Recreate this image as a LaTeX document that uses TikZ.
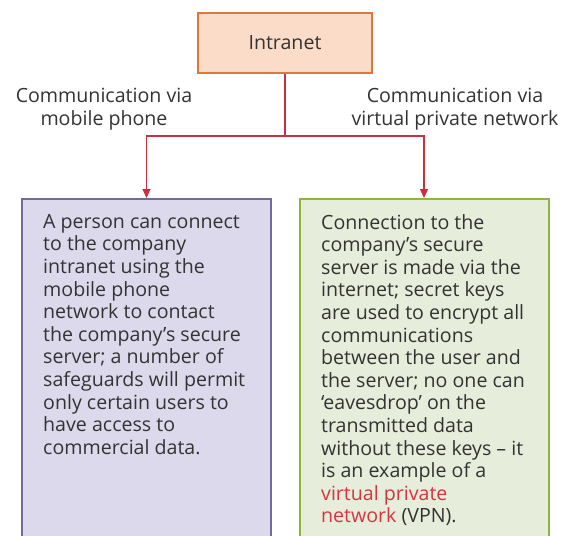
\documentclass[tikz,border=0pt]{standalone}
\usepackage{fontspec}
\setmainfont{Open Sans}
\usetikzlibrary{arrows.meta}
\definecolor{txt}{HTML}{333333}
\definecolor{peach}{HTML}{FADCC8}
\definecolor{orangeb}{HTML}{E0773A}
\definecolor{lav}{HTML}{DDD9EC}
\definecolor{lavb}{HTML}{6F6C9A}
\definecolor{grn}{HTML}{E7EDDB}
\definecolor{grnb}{HTML}{8FB540}
\definecolor{conn}{HTML}{C9303F}
\definecolor{vpn}{HTML}{D8343F}
\tikzset{
  every node/.style={text=txt, font=\fontsize{19.6}{22.6}\selectfont},
  topbox/.style={draw=orangeb, fill=peach, line width=2pt, minimum width=174pt, minimum height=60pt, inner sep=0pt},
  panel/.style={line width=2pt, minimum width=249pt, minimum height=350pt, anchor=north, inner sep=0pt},
  body/.style={align=left, anchor=north west, inner sep=0pt},
  lbl/.style={align=center, inner sep=0pt},
  connline/.style={draw=conn, line width=1.2pt},
  arr/.style={connline, -{Triangle[length=9pt,width=8pt]}}
}
\begin{document}
\begin{tikzpicture}[x=1pt,y=-1pt]
\clip (0,0) rectangle (571,536);
\fill[white] (0,0) rectangle (571,536);
\node[topbox] (intranet) at (285,43) {Intranet};
\node[lbl] (lbl1) at (104,109) {Communication via\\mobile phone};
\node[lbl] (lbl2) at (455,109) {Communication via\\virtual private network};
\node[panel, draw=lavb, fill=lav] (leftbox) at (146.5,198) {};
\node[panel, draw=grnb, fill=grn] (rightbox) at (424,198) {};
\coordinate (split) at (285,136);
\draw[connline] (intranet.south) -- (split);
\draw[arr] (split) -| (leftbox.north);
\draw[arr] (split) -| (rightbox.north);
\node[body] (lefttext) at (43,214) {A person can connect\\to the company\\intranet using the\\mobile phone\\network to contact\\the company’s secure\\server; a number of\\safeguards will permit\\only certain users to\\have access to\\commercial data.};
\node[body] (righttext) at (321,214) {Connection to the\\company’s secure\\server is made via the\\internet; secret keys\\are used to encrypt all\\communications\\between the user and\\the server; no one can\\‘eavesdrop’ on the\\transmitted data\\without these keys – it\\is an example of a\\\textcolor{vpn}{virtual private}\\\textcolor{vpn}{network} (VPN).};
\end{tikzpicture}
\end{document}
